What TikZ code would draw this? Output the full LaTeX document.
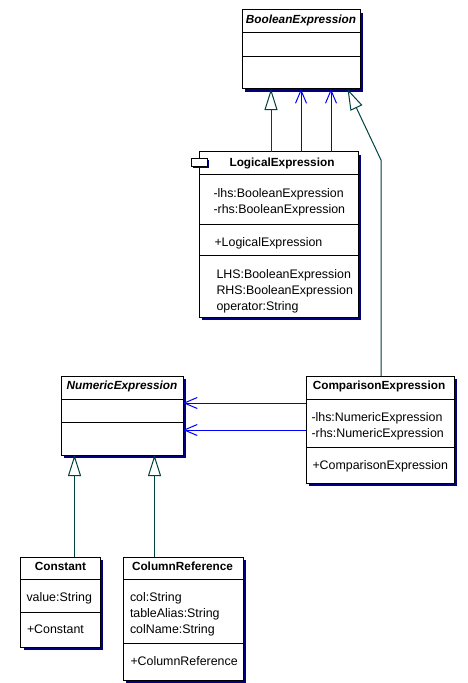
\documentclass[tikz,border=0pt]{standalone}
\usepackage{fontspec}
\setmainfont{Liberation Sans}
\usepackage{xcolor}
\usepackage{tikz}
\usetikzlibrary{positioning, calc, arrows.meta, shadows}
\definecolor{umlnavy}{RGB}{0,0,128}
\definecolor{umlteal}{RGB}{0,64,64}
\definecolor{umlblue}{RGB}{0,0,255}

\begin{document}
\begin{tikzpicture}[x=1bp, y=-1bp, line width=1bp,
    every node/.style={inner sep=0pt, font=\fontsize{12.4bp}{14bp}\selectfont},
    classbox/.style={draw, fill=white, outer sep=0pt, drop shadow={shadow xshift=3bp, shadow yshift=-3bp, fill=umlnavy, opacity=1}},
    title/.style={anchor=base, font=\fontsize{11.8bp}{14bp}\selectfont\bfseries},
    abstitle/.style={anchor=base, font=\fontsize{11.8bp}{14bp}\selectfont\bfseries\itshape},
    member/.style={anchor=base west},
    gen/.style={draw=umlteal, -{Triangle[open, length=21bp, width=13bp]}},
    assoc/.style={draw=umlblue, -{Straight Barb[length=13bp, width=11bp]}}]
  \useasboundingbox (0,0) rectangle (468,683);

  % Class boxes
  \node[classbox, minimum width=118bp, minimum height=79bp] (bool) at (301,49.5) {};
  \node[classbox, minimum width=159bp, minimum height=165bp] (logic) at (278.5,234.5) {};
  \node[classbox, minimum width=122bp, minimum height=79bp] (num) at (122,415.5) {};
  \node[classbox, minimum width=148bp, minimum height=107bp] (comp) at (380,429.5) {};
  \node[classbox, minimum width=79bp, minimum height=90bp] (const) at (60.5,602) {};
  \node[classbox, minimum width=120bp, minimum height=123bp] (colref) at (183,618.5) {};

  % Compartment lines
  \foreach \n/\d in {bool/23, bool/47, logic/23, logic/72, logic/103, num/23, num/46,
      comp/23, comp/71, const/22, const/55, colref/22, colref/86} {
    \draw ($(\n.north west)+(0,\d)$) -- ($(\n.north east)+(0,\d)$);
  }

  % Package icon
  \node[draw, fill=white, minimum width=16bp, minimum height=8bp,
    drop shadow={shadow xshift=1.5bp, shadow yshift=-1.5bp, fill=umlnavy, opacity=1}] (icon) at (199.5,162) {};

  % Names and members
  \node[abstitle] (boolname) at (301,24) {BooleanExpression};

  \node[title] (logicname) at (282,166) {LogicalExpression};
  \node[member] (llhs) at (213,197.5) {-lhs:BooleanExpression};
  \node[member] (lrhs) at (213,213.5) {-rhs:BooleanExpression};
  \node[member] (lctor) at (214,246) {+LogicalExpression};
  \node[member] (lLHS) at (216,278) {LHS:BooleanExpression};
  \node[member] (lRHS) at (216,294) {RHS:BooleanExpression};
  \node[member] (lop) at (216,310) {operator:String};

  \node[abstitle] (numname) at (122,389.5) {NumericExpression};

  \node[title] (compname) at (379,389.5) {ComparisonExpression};
  \node[member] (clhs) at (311,421) {-lhs:NumericExpression};
  \node[member] (crhs) at (311,437) {-rhs:NumericExpression};
  \node[member] (cctor) at (312,469.5) {+ComparisonExpression};

  \node[title] (constname) at (60.5,570) {Constant};
  \node[member] (cvalue) at (26,601) {value:String};
  \node[member] (constctor) at (26.5,633) {+Constant};

  \node[title] (colname) at (182.5,570) {ColumnReference};
  \node[member] (ccol) at (129.5,601) {col:String};
  \node[member] (calias) at (129.5,617) {tableAlias:String};
  \node[member] (ccolname) at (129.5,633) {colName:String};
  \node[member] (colctor) at (130,665.5) {+ColumnReference};

  % Connectors
  \coordinate (g1) at (271,0);
  \coordinate (a1) at (301,0);
  \coordinate (a2) at (331,0);
  \coordinate (g2) at (347.5,0);
  \coordinate (bend) at (381,160);
  \coordinate (r1) at (0,403);
  \coordinate (r2) at (0,430);
  \coordinate (g3) at (74.5,0);
  \coordinate (g4) at (154.5,0);

  \draw[gen] (logic.north -| g1) -- (bool.south -| g1);
  \draw[assoc] (logic.north -| a1) -- (bool.south -| a1);
  \draw[assoc] (logic.north -| a2) -- (bool.south -| a2);
  \draw[gen] (comp.north -| bend) -- (bend) -- (bool.south -| g2);
  \draw[assoc] (comp.west |- r1) -- (num.east |- r1);
  \draw[assoc] (comp.west |- r2) -- (num.east |- r2);
  \draw[gen] (const.north -| g3) -- (num.south -| g3);
  \draw[gen] (colref.north -| g4) -- (num.south -| g4);
\end{tikzpicture}
\end{document}
